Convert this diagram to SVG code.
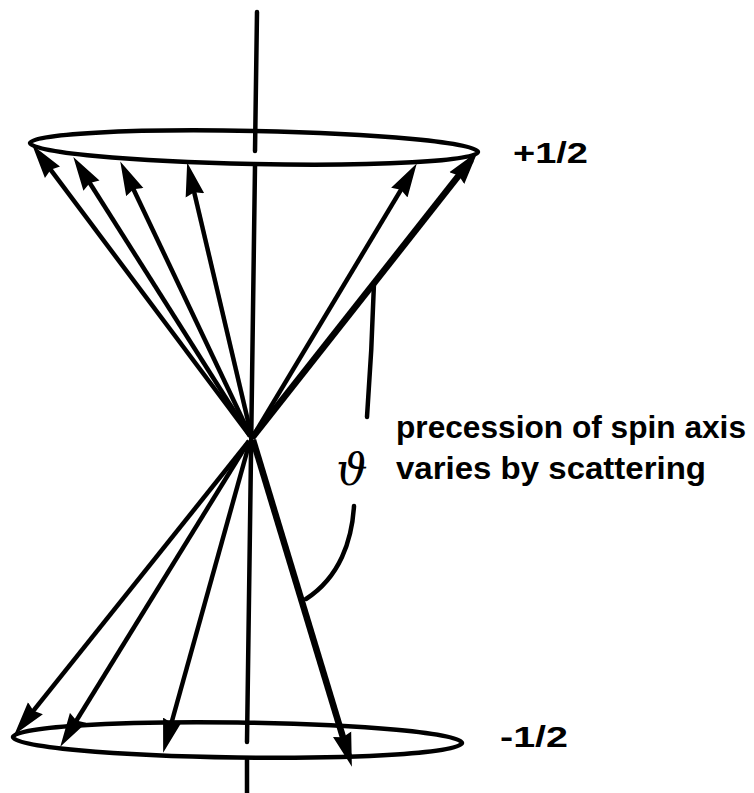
<svg xmlns="http://www.w3.org/2000/svg" width="754" height="793" viewBox="0 0 754 793">
<style>
.ln{stroke:#000;fill:none;stroke-linecap:round;stroke-width:4.5}
.ar{stroke:#000;fill:none;stroke-width:4.5;marker-end:url(#ah)}
.thick{stroke-width:6.5}
.lbl{font-family:"Liberation Sans",Arial,sans-serif;font-weight:bold;fill:#000}
</style>
<defs>
<marker id="ah" markerUnits="userSpaceOnUse" markerWidth="36" markerHeight="20" viewBox="0 0 34 18" refX="22" refY="9" orient="auto">
<path d="M0,0 L32,9 L0,18 L3,9 z" fill="#000"/>
</marker>
</defs>
<rect width="754" height="793" fill="#fff"/>
<g id="axis">
<line class="ln" x1="257" y1="12" x2="255" y2="151"/>
<line class="ln" x1="255" y1="166" x2="247" y2="742"/>
<line class="ln" x1="247" y1="760" x2="247" y2="793"/>
</g>
<g id="top-circle">
<ellipse class="ln" cx="254" cy="147.5" rx="224" ry="16.5" transform="rotate(1.15 254 147.5)"/>
</g>
<g id="bottom-circle">
<ellipse class="ln" cx="237.5" cy="740" rx="224.5" ry="17.5" transform="rotate(0.77 237.5 740)"/>
</g>
<g id="connectors">
<line class="ar" x1="250" y1="436" x2="38.6" y2="153.6"/>
<line class="ar" x1="250" y1="436" x2="79" y2="166"/>
<line class="ar" x1="251" y1="437" x2="124.8" y2="171"/>
<line class="ar" x1="252" y1="438" x2="189.6" y2="172.7"/>
<line class="ar" x1="252" y1="438" x2="411.3" y2="172.6"/>
<line class="ar thick" x1="252" y1="438" x2="471.2" y2="159.8"/>
<line class="ar" x1="249" y1="441" x2="20.9" y2="726.4"/>
<line class="ar" x1="249" y1="441" x2="65.8" y2="737.7"/>
<line class="ar" x1="250" y1="441" x2="166" y2="742.5"/>
<line class="ar thick" x1="253" y1="440" x2="348.8" y2="756.5"/>
</g>
<g id="angle">
<path class="ln" d="M374,283 Q372,350 367,417"/>
<path class="ln" d="M354,506 C352,540 340,577 306,599"/>
<text x="352" y="485" text-anchor="middle" font-family="DejaVu Serif, serif" font-style="italic" font-size="44">ϑ</text>
</g>
<g id="label-plus">
<text class="lbl" x="513" y="163" font-size="29" textLength="75" lengthAdjust="spacingAndGlyphs">+1/2</text>
</g>
<g id="label-minus">
<text class="lbl" x="500" y="747" font-size="29" textLength="68" lengthAdjust="spacingAndGlyphs">-1/2</text>
</g>
<g id="caption">
<text class="lbl" x="396" y="438" font-size="32" textLength="350" lengthAdjust="spacingAndGlyphs">precession of spin axis</text>
<text class="lbl" x="396" y="479" font-size="32" textLength="310" lengthAdjust="spacingAndGlyphs">varies by scattering</text>
</g>
</svg>
